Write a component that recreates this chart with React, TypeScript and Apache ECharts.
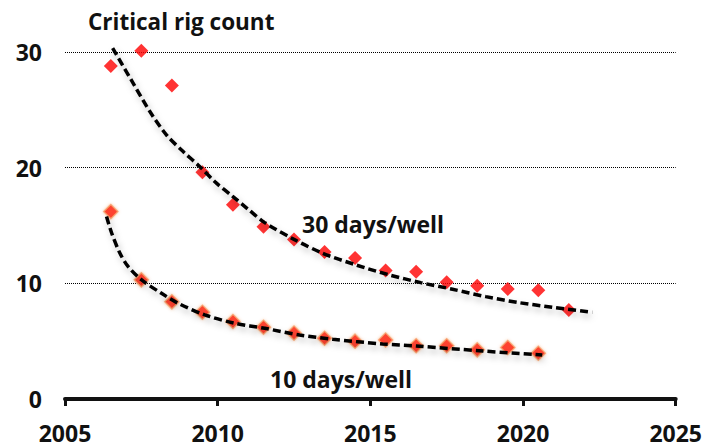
import React, { useEffect, useRef } from "react";
import * as echarts from "echarts";

const years30 = [2006.5, 2007.5, 2008.5, 2009.5, 2010.5, 2011.5, 2012.5, 2013.5, 2014.5, 2015.5, 2016.5, 2017.5, 2018.5, 2019.5, 2020.5, 2021.5];
const rigs30 = [28.8, 30.1, 27.1, 19.6, 16.8, 14.9, 13.8, 12.7, 12.2, 11.1, 11.0, 10.1, 9.8, 9.5, 9.4, 7.7];

const years10 = [2006.5, 2007.5, 2008.5, 2009.5, 2010.5, 2011.5, 2012.5, 2013.5, 2014.5, 2015.5, 2016.5, 2017.5, 2018.5, 2019.5, 2020.5];
const rigs10 = [16.2, 10.3, 8.4, 7.5, 6.7, 6.2, 5.7, 5.25, 5.0, 5.1, 4.6, 4.6, 4.25, 4.45, 3.95];

const trend30X = [2006.56, 2007.23, 2007.78, 2008.32, 2008.87, 2009.41, 2009.96, 2010.5, 2011.0, 2011.54, 2012.5, 2013.44, 2014.53, 2015.62, 2016.65, 2017.69, 2018.78, 2019.87, 2020.96, 2022.27];
const trend30Y = [30.34, 27.31, 24.85, 22.84, 21.39, 20.1, 18.66, 17.5, 16.4, 15.25, 13.8, 12.6, 11.59, 10.73, 10.06, 9.49, 8.85, 8.33, 7.93, 7.5];

const trend10X = [2006.36, 2006.53, 2006.8, 2007.07, 2007.51, 2008.16, 2008.7, 2009.58, 2010.56, 2011.54, 2012.68, 2013.77, 2015.4, 2016.5, 2018.67, 2020.63];
const trend10Y = [15.77, 14.33, 12.6, 11.44, 10.29, 9.14, 8.28, 7.27, 6.55, 6.11, 5.54, 5.16, 4.76, 4.58, 4.15, 3.8];

const xTicks = { min: 2005, max: 2025, interval: 5 };
const yTicks = { min: 0, max: 30, interval: 10 };

const title = "Critical rig count";
const label30 = "30 days/well";
const label10 = "10 days/well";

const FONT = "'Open Sans', 'Noto Sans', sans-serif";

const zip = (xs: number[], ys: number[]) => xs.map((x, i) => [x, ys[i]]);

export default function App() {
  const ref = useRef<HTMLDivElement>(null);
  useEffect(() => {
    if (!ref.current) return;
    const chart = echarts.init(ref.current, null, { renderer: "svg" });
    const trendStyle = {
      color: "#000",
      width: 3.5,
      type: [8, 4] as any,
      shadowColor: "rgba(0,0,0,0.25)",
      shadowBlur: 6,
      shadowOffsetX: 2,
      shadowOffsetY: 4,
    };
    const lbl = { color: "#111", fontFamily: FONT, fontWeight: "bold", fontSize: 23 };
    chart.setOption({
      animation: false,
      grid: { left: 65, right: 28, top: 52, bottom: 48 },
      xAxis: {
        type: "value",
        ...xTicks,
        axisLine: { show: true, lineStyle: { color: "#111", width: 4 } },
        axisTick: { show: true, length: 7, lineStyle: { color: "#111", width: 3 } },
        splitLine: { show: false },
        axisLabel: { ...lbl, margin: 22, formatter: (v: number) => String(v) },
      },
      yAxis: {
        type: "value",
        ...yTicks,
        axisLine: { show: false },
        axisTick: { show: false },
        splitLine: { show: true, lineStyle: { color: "#000", width: 1, type: [1, 1] as any } },
        axisLabel: { ...lbl, margin: 23 },
      },
      series: [
        {
          type: "scatter",
          data: zip(years30, rigs30),
          symbol: "diamond",
          symbolSize: 14,
          clip: false,
          itemStyle: { color: "#FF0000" },
          z: 2,
        },
        {
          type: "scatter",
          data: zip(years10, rigs10),
          symbol: "diamond",
          symbolSize: 14,
          clip: false,
          itemStyle: { color: "#FF0000", borderColor: "#F7A36A", borderWidth: 1.5, shadowColor: "rgba(240,140,70,0.6)", shadowBlur: 3 },
          z: 2,
        },
        {
          type: "line",
          data: zip(trend30X, trend30Y),
          smooth: 0.3,
          showSymbol: false,
          clip: false,
          lineStyle: trendStyle,
          z: 3,
        },
        {
          type: "line",
          data: zip(trend10X, trend10Y),
          smooth: 0.3,
          showSymbol: false,
          clip: false,
          lineStyle: trendStyle,
          z: 3,
        },
      ],
      graphic: [
        {
          type: "text",
          x: 88,
          y: 21,
          style: { text: title, fontFamily: FONT, fontWeight: "bold", fontSize: 22.5, fill: "#111", verticalAlign: "middle" },
        },
        {
          type: "text",
          x: 302,
          y: 224,
          style: { text: label30, fontFamily: FONT, fontWeight: "bold", fontSize: 23, fill: "#111", verticalAlign: "middle" },
        },
        {
          type: "text",
          x: 270,
          y: 379,
          style: { text: label10, fontFamily: FONT, fontWeight: "bold", fontSize: 23, fill: "#111", verticalAlign: "middle" },
        },
      ],
    });
    return () => chart.dispose();
  }, []);
  return <div ref={ref} style={{ width: 705, height: 447, position: "absolute", left: 0, top: 0 }} />;
}
